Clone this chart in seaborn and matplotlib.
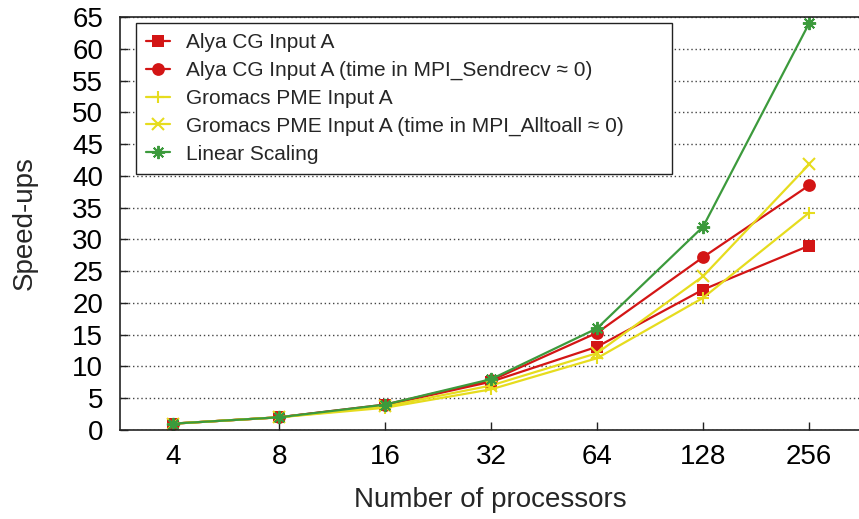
import matplotlib
matplotlib.use("Agg")
import matplotlib.pyplot as plt
import seaborn as sns
import pandas as pd

# Processor counts on the x axis (categorical, evenly spaced)
processors = ["4", "8", "16", "32", "64", "128", "256"]

# Measured speed-ups per configuration
alya_cg = [1.0, 2.0, 3.9, 7.6, 13.1, 22.1, 29.0]
alya_cg_no_sendrecv = [1.0, 2.0, 4.0, 7.8, 15.3, 27.2, 38.5]
gromacs_pme = [1.0, 2.0, 3.5, 6.4, 11.3, 20.8, 34.2]
gromacs_pme_no_alltoall = [1.0, 2.0, 3.7, 7.0, 12.1, 24.2, 41.8]
linear = [1, 2, 4, 8, 16, 32, 64]

labels = [
    "Alya CG Input A",
    "Alya CG Input A (time in MPI_Sendrecv \u2248 0)",
    "Gromacs PME Input A",
    "Gromacs PME Input A (time in MPI_Alltoall \u2248 0)",
    "Linear Scaling",
]

RED = "#d31515"
YELLOW = "#e6dc1e"
GREEN = "#3c9a3c"

styles = [
    dict(color=RED, marker="s", markersize=8.6, mew=0),
    dict(color=RED, marker="o", markersize=9.2, mew=0),
    dict(color=YELLOW, marker="+", markersize=8.5, mew=1.5),
    dict(color=YELLOW, marker="x", markersize=8.5, mew=1.5),
    dict(color=GREEN, marker=(8, 2, 0), markersize=9.5, mew=1.4),
]

series = [alya_cg, alya_cg_no_sendrecv, gromacs_pme, gromacs_pme_no_alltoall, linear]

sns.set_theme(style="white")
plt.rcParams["font.family"] = ["Liberation Sans", "DejaVu Sans"]

fig = plt.figure(figsize=(8.59, 5.19), dpi=100)
ax = fig.add_axes([120 / 859, 1 - 430 / 519, 740 / 859, 413 / 519])

pos = list(range(len(processors)))
for label, values, st in zip(labels, series, styles):
    df = pd.DataFrame({"x": pos, "y": values})
    sns.lineplot(data=df, x="x", y="y", ax=ax, label=label, linewidth=1.6,
                 markeredgecolor=st["color"], **st)

ax.set_xlim(-0.5, 6.48)
ax.set_ylim(0, 65)
ax.set_xticks(pos)
ax.set_xticklabels(processors)
ax.set_yticks(range(0, 66, 5))

ax.yaxis.grid(True, linestyle=(0, (1, 2)), color="#444444", linewidth=1.0)
ax.xaxis.grid(False)
ax.set_axisbelow(True)

for side in ["left", "bottom", "top"]:
    ax.spines[side].set_visible(True)
    ax.spines[side].set_color("#222222")
    ax.spines[side].set_linewidth(1.2)
ax.spines["right"].set_visible(False)

ax.tick_params(axis="both", which="major", direction="in", length=6, width=1,
               color="#222222", labelsize=20, labelcolor="black",
               bottom=True, left=True, top=False, right=False)
ax.tick_params(axis="x", pad=10)
ax.tick_params(axis="y", pad=12)

ax.set_xlabel("Number of processors", fontsize=20, labelpad=12)
ax.set_ylabel("Speed-ups", fontsize=20, labelpad=25)

leg = ax.legend(loc="upper left",
                bbox_to_anchor=(16 / 740, 1 - 10 / 413, 536 / 740, 0.01),
                mode="expand", borderaxespad=0, fontsize=15, frameon=True,
                fancybox=False, edgecolor="#222222", framealpha=1,
                handlelength=1.15, handletextpad=0.77, labelspacing=0.42,
                borderpad=0.5)
leg.get_frame().set_linewidth(1.0)

fig.savefig("out.png", dpi=100)
